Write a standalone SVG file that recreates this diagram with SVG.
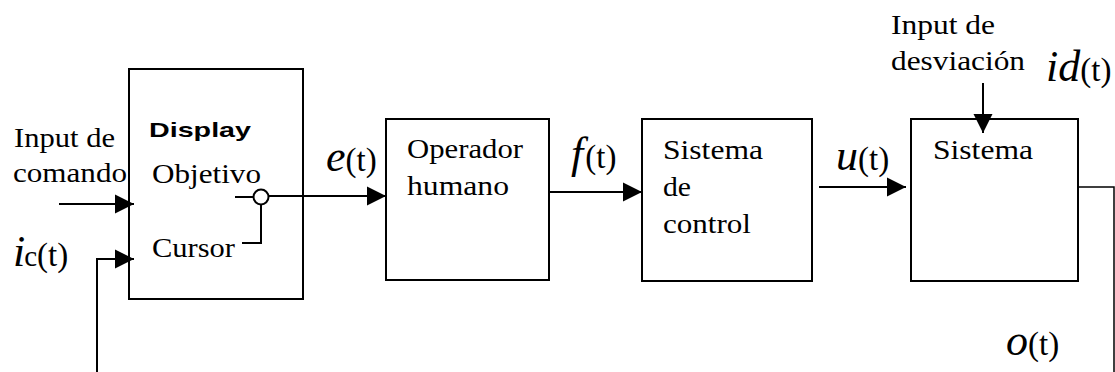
<svg xmlns="http://www.w3.org/2000/svg" width="1115" height="372" viewBox="0 0 1115 372">
<defs>
<marker id="ah" markerUnits="userSpaceOnUse" markerWidth="20" markerHeight="20" refX="19" refY="9.5" orient="auto" viewBox="0 0 20 19">
<path d="M0,0 L19,9.5 L0,19 Z" fill="#000"/>
</marker>
<style>
.box{fill:#fff;stroke:#000;stroke-width:2}
.t{font-family:"Liberation Serif","Times New Roman",serif;font-size:26.5px;fill:#000}
.b{font-family:"Liberation Sans",Arial,sans-serif;font-size:20.5px;font-weight:bold;fill:#000}
.f{font-family:"Liberation Serif","Times New Roman",serif;font-size:33px;fill:#000}
.it{font-style:italic;font-size:44px}
.ln{fill:none;stroke:#000;stroke-width:2}
.ar{fill:none;stroke:#000;stroke-width:2;marker-end:url(#ah)}
</style>
</defs>
<g id="display">
<rect class="box" x="129" y="69" width="174" height="230"/>
<text class="b" x="149" y="137" textLength="102" lengthAdjust="spacingAndGlyphs">Display</text>
<text class="t" x="152" y="183" textLength="109" lengthAdjust="spacingAndGlyphs">Objetivo</text>
<text class="t" x="152" y="257" textLength="83" lengthAdjust="spacingAndGlyphs">Cursor</text>
<circle cx="261" cy="197" r="7.5" fill="#fff" stroke="#000" stroke-width="2"/>
</g>
<g id="operador">
<rect class="box" x="386" y="119" width="163" height="161"/>
<text class="t" x="407" y="158" textLength="116" lengthAdjust="spacingAndGlyphs">Operador</text>
<text class="t" x="407" y="195" textLength="102" lengthAdjust="spacingAndGlyphs">humano</text>
</g>
<g id="control">
<rect class="box" x="642" y="119" width="170" height="162"/>
<text class="t" x="663" y="159" textLength="100" lengthAdjust="spacingAndGlyphs">Sistema</text>
<text class="t" x="663" y="196" textLength="28" lengthAdjust="spacingAndGlyphs">de</text>
<text class="t" x="663" y="233" textLength="88" lengthAdjust="spacingAndGlyphs">control</text>
</g>
<g id="sistema">
<rect class="box" x="911" y="119" width="167" height="162"/>
<text class="t" x="933" y="159" textLength="100" lengthAdjust="spacingAndGlyphs">Sistema</text>
</g>
<g id="labels">
<text class="t" x="14" y="147" textLength="101" lengthAdjust="spacingAndGlyphs">Input de</text>
<text class="t" x="13" y="182" textLength="114" lengthAdjust="spacingAndGlyphs">comando</text>
<text class="t" x="891" y="34" textLength="104" lengthAdjust="spacingAndGlyphs">Input de</text>
<text class="t" x="891" y="70" textLength="134" lengthAdjust="spacingAndGlyphs">desviación</text>
<text class="f" x="13" y="266"><tspan class="it">i</tspan><tspan dx="-1" style="font-size:29px">c</tspan>(t)</text>
<text class="f" x="327" y="171"><tspan class="it" dx="-1">e</tspan>(t)</text>
<text class="f" x="571" y="168"><tspan class="it">f</tspan><tspan dx="2">(t)</tspan></text>
<text class="f" x="836" y="170"><tspan class="it">u</tspan>(t)</text>
<text class="f" x="1046" y="81"><tspan class="it">id</tspan>(t)</text>
<text class="f" x="1006" y="355"><tspan class="it">o</tspan>(t)</text>
</g>
<g id="connectors">
<line class="ar" x1="59" y1="204" x2="134" y2="204"/>
<polyline class="ar" points="97,372 97,259 134,259"/>
<line class="ln" x1="235" y1="197" x2="253.5" y2="197"/>
<line class="ar" x1="268.5" y1="196" x2="386" y2="196"/>
<polyline class="ln" points="242,243 261,243 261,204.5"/>
<line class="ar" x1="550" y1="192" x2="642" y2="192"/>
<line class="ar" x1="819" y1="187" x2="906" y2="187"/>
<line class="ar" x1="983" y1="83" x2="983" y2="133"/>
<polyline class="ln" points="1079,187 1114,187 1114,372" style="stroke-width:1.5"/>
</g>
</svg>
